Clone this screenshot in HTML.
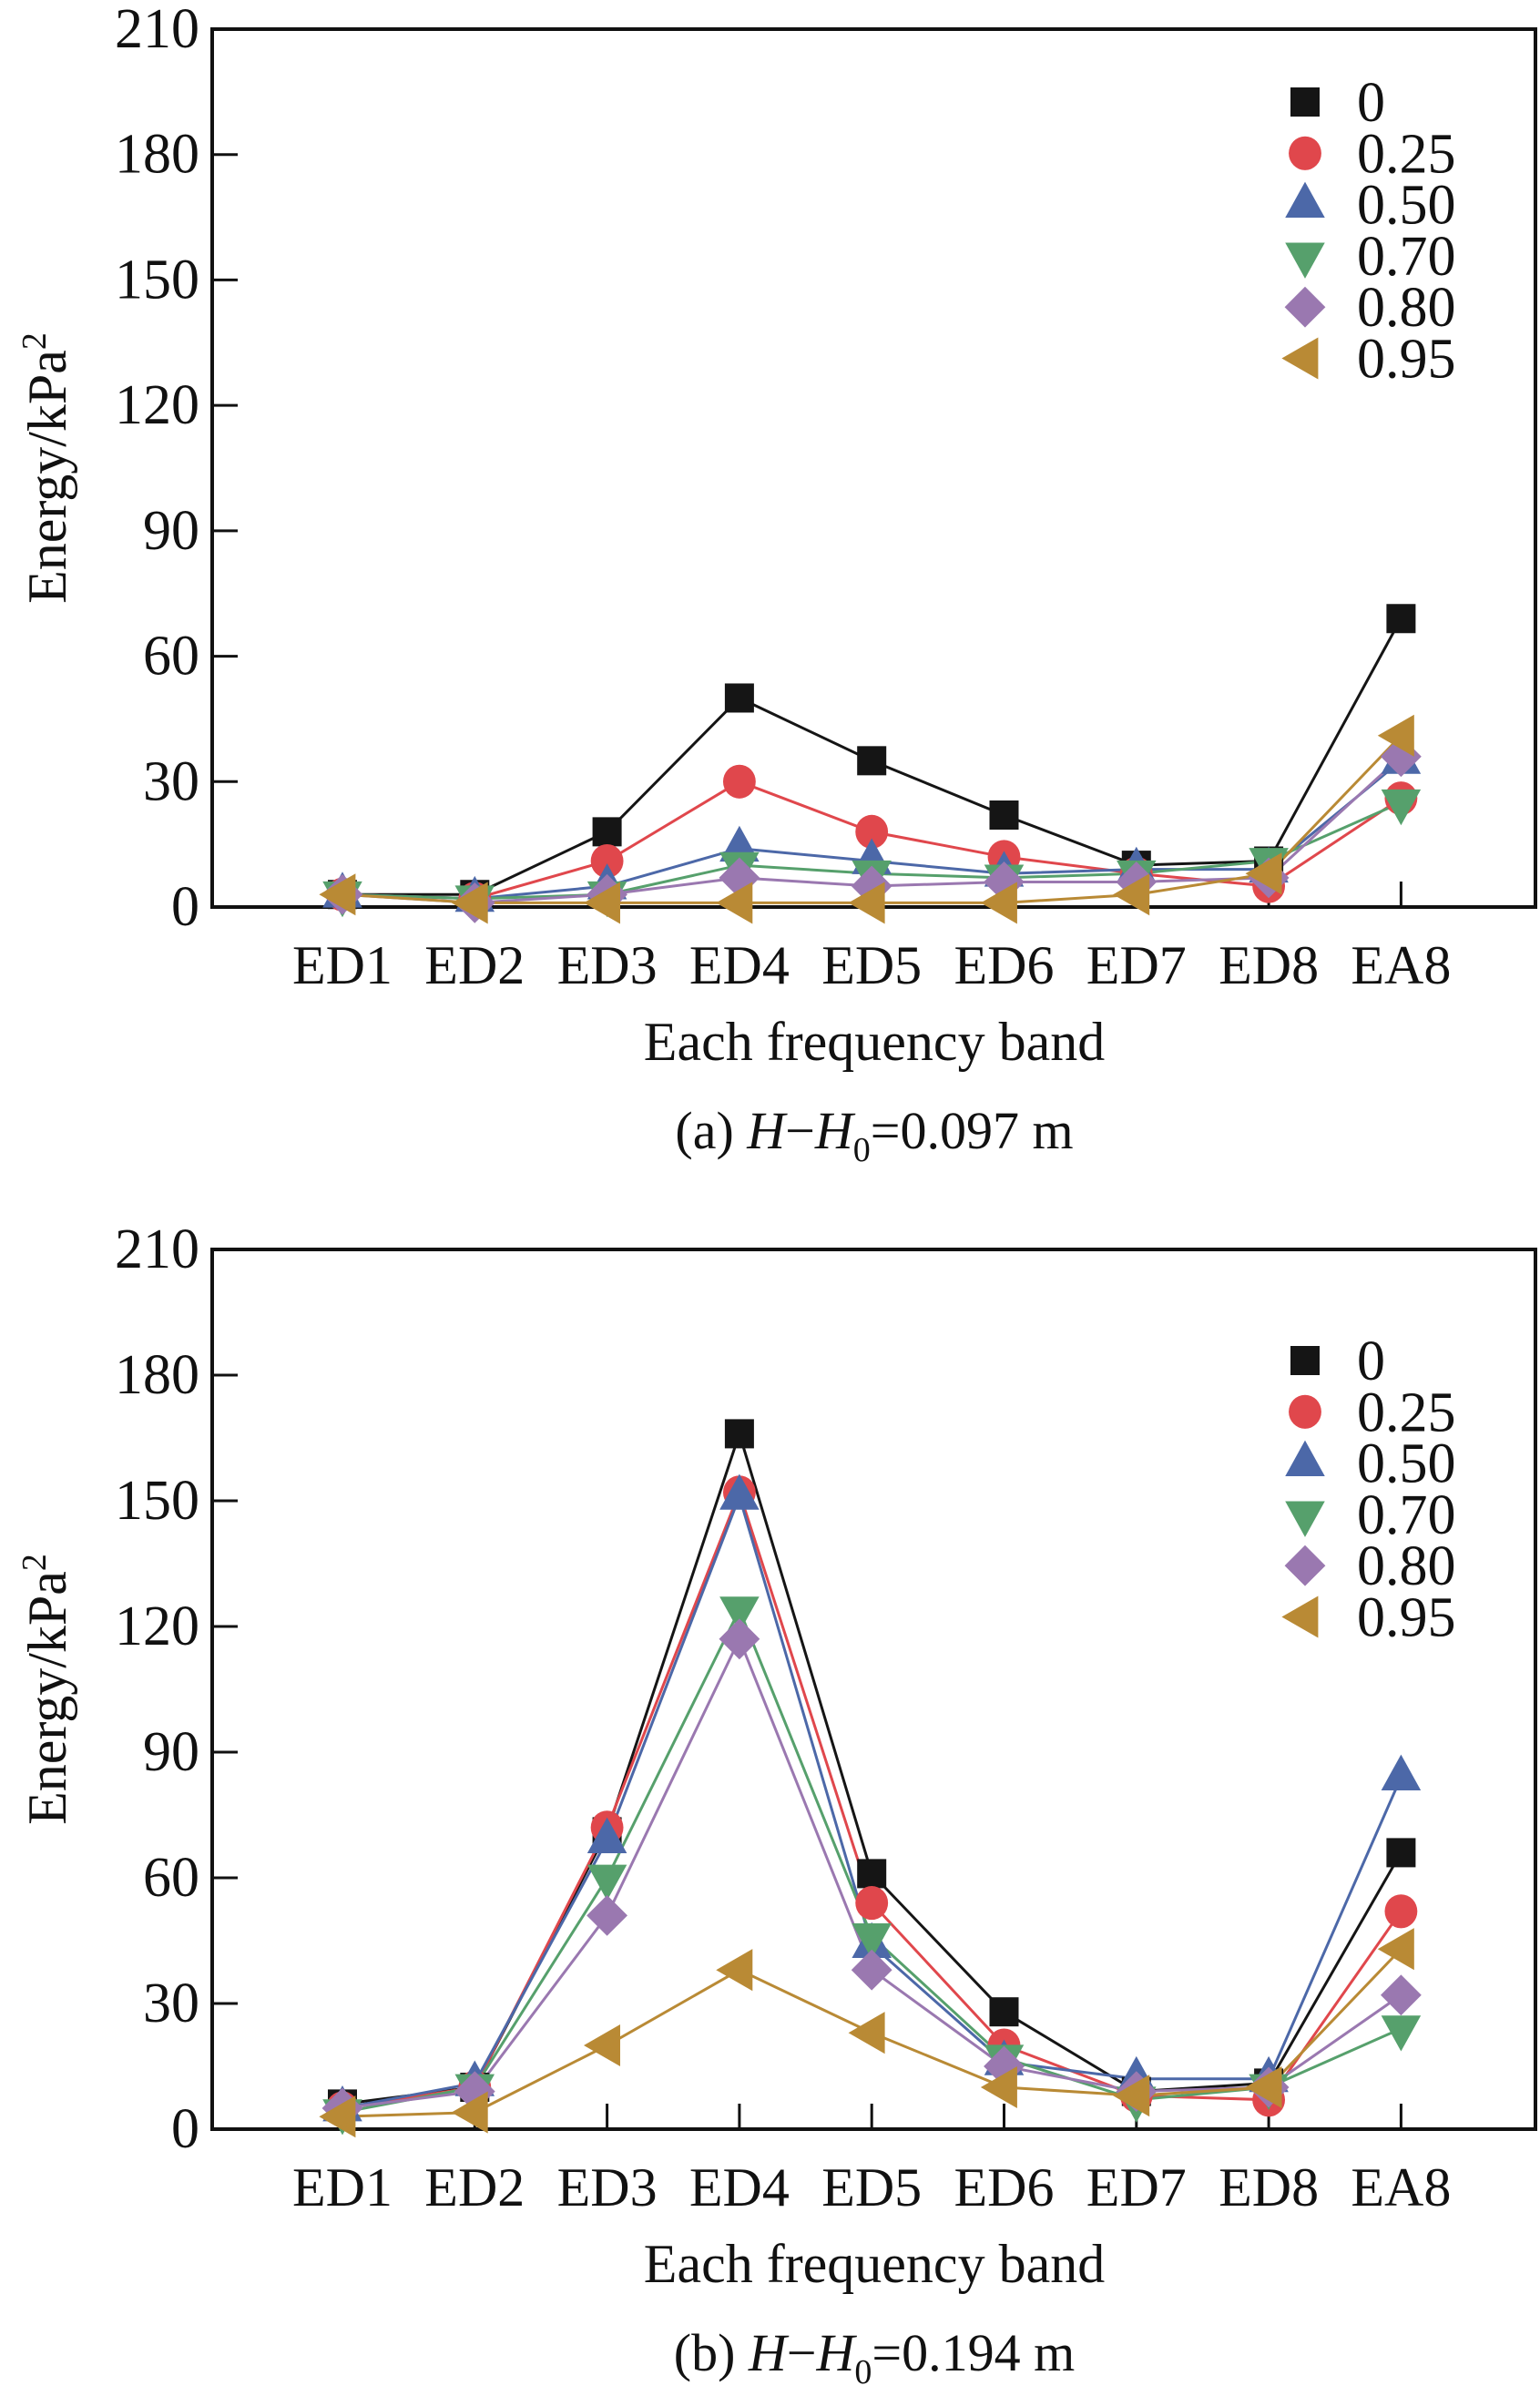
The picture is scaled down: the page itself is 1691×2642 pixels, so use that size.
<!DOCTYPE html>
<html><head><meta charset="utf-8">
<style>
html,body{margin:0;padding:0;background:#fff;}
svg{display:block;font-family:"Liberation Serif","Times New Roman",serif;}
svg text{font-family:"Liberation Serif","Times New Roman",serif;fill:#111;}
</style></head>
<body>
<svg id="fig" width="1691" height="2642" viewBox="0 0 1691 2642" xmlns="http://www.w3.org/2000/svg" font-family="Liberation Serif, serif"></svg>
<script>
const categories = ["ED1","ED2","ED3","ED4","ED5","ED6","ED7","ED8","EA8"];
const seriesNames = ["0","0.25","0.50","0.70","0.80","0.95"];
const yTicks = [0,30,60,90,120,150,180,210];
// Panel (a) H-H0=0.097 m
const a_s0   = [3,3,18,50,35,22,10,11,69];
const a_s25  = [3,2,11,30,18,12,8,5,26];
const a_s50  = [3,2,5,14,11,8,9,9,35];
const a_s70  = [3,2,3,10,8,7,8,11,25];
const a_s80  = [3,1,3,7,5,6,6,7,36];
const a_s95  = [3,1,1,1,1,1,3,8,41];
// Panel (b) H-H0=0.194 m
const b_s0   = [6,10,71,166,61,28,9,11,66];
const b_s25  = [5,10,72,152,54,20,8,7,52];
const b_s50  = [5,11,69,151,44,16,12,12,84];
const b_s70  = [4,10,60,124,46,17,7,10,24];
const b_s80  = [5,9,51,117,38,15,9,10,32];
const b_s95  = [3,4,20,38,23,10,8,10,43];

const colors = ["#151515","#e0474c","#4c68a8","#56a06c","#9a78b0","#b98a35"];
const shapes = ["square","circle","up","down","diamond","left"];
const NS = "http://www.w3.org/2000/svg";
const svg = document.getElementById("fig");
const FONT = "Liberation Serif, Times New Roman, serif";

function el(tag, attrs, parent){
  const e = document.createElementNS(NS, tag);
  for (const k in attrs) e.setAttribute(k, attrs[k]);
  if (tag==="text") e.setAttribute("font-family", FONT);
  (parent||svg).appendChild(e);
  return e;
}
function marker(g, shape, cx, cy, color, s){
  let m;
  if (shape==="square") m = el("rect",{x:cx-s*0.5,y:cy-s*0.5,width:s,height:s,fill:color},g);
  else if (shape==="circle") m = el("ellipse",{cx:cx,cy:cy,rx:s*0.56,ry:s*0.58,fill:color},g);
  else if (shape==="up") m = el("polygon",{points:`${cx-s*0.68},${cy+s*0.45} ${cx+s*0.68},${cy+s*0.45} ${cx},${cy-s*0.78}`,fill:color},g);
  else if (shape==="down") m = el("polygon",{points:`${cx-s*0.68},${cy-s*0.45} ${cx+s*0.68},${cy-s*0.45} ${cx},${cy+s*0.78}`,fill:color},g);
  else if (shape==="diamond") m = el("polygon",{points:`${cx},${cy-s*0.7} ${cx+s*0.7},${cy} ${cx},${cy+s*0.7} ${cx-s*0.7},${cy}`,fill:color},g);
  else m = el("polygon",{points:`${cx-s*0.8},${cy} ${cx+s*0.45},${cy-s*0.72} ${cx+s*0.45},${cy+s*0.72}`,fill:color},g);
  return m;
}

function panel(id, top, bottom, series, caption, capNum){
  const L=233, R=1686, X0=376, DX=145.3;
  const xs = i => X0 + i*DX;
  const ys = v => bottom - (v/210)*(bottom-top);
  const g = el("g",{});
  
  
  const frame = el("path",{d:`M${L},${top} L${L},${bottom} L${R},${bottom} L${R},${top} Z`,fill:"none",stroke:"#111","stroke-width":4},g);
  
  
  yTicks.forEach(v=>{
    const y = ys(v);
    if (v>0 && v<210) el("line",{x1:L,y1:y,x2:L+28,y2:y,stroke:"#111","stroke-width":3},g);
    const t = el("text",{x:L-14,y:y+20,"text-anchor":"end","font-size":62},g);
    t.textContent = v;
    
    
  });
  categories.forEach((c,i)=>{
    const x = xs(i);
    el("line",{x1:x,y1:bottom,x2:x,y2:bottom-28,stroke:"#111","stroke-width":3},g);
    const t = el("text",{x:x,y:bottom+84,"text-anchor":"middle","font-size":60},g);
    t.textContent = c;
    
    
  });
  const yl = el("text",{x:0,y:0,"text-anchor":"middle","font-size":60,transform:`translate(72,${(top+bottom)/2}) rotate(-90)`},g);
  yl.innerHTML = 'Energy/kPa<tspan dy="-22" font-size="38">2</tspan>';
  
  
  const xt = el("text",{x:960,y:bottom+168,"text-anchor":"middle","font-size":60},g);
  xt.textContent = "Each frequency band";
  
  
  const cap = el("text",{x:960,y:bottom+265,"text-anchor":"middle","font-size":58},g);
  cap.innerHTML = `(${caption}) <tspan font-style="italic">H</tspan>−<tspan font-style="italic">H</tspan><tspan dy="14" font-size="38">0</tspan><tspan dy="-14">=${capNum} m</tspan>`;
  
  
  series.forEach((vals,si)=>{
    const pts = vals.map((v,i)=>`${xs(i)},${ys(v)}`).join(" ");
    const pl = el("polyline",{points:pts,fill:"none",stroke:colors[si],"stroke-width":3},g);
    
    
  });
  series.forEach((vals,si)=>{
    vals.forEach((v,i)=>{
      const m = marker(g, shapes[si], xs(i), ys(v), colors[si], 32);
      
      
    });
  });
  const legTop = top + 80 + (id==="panel-b"?42:0);
  seriesNames.forEach((n,si)=>{
    const y = legTop + si*56.3;
    const m = marker(g, shapes[si], 1433, y, colors[si], 32);
    
    
    const t = el("text",{x:1490,y:y+21,"font-size":62},g);
    t.textContent = n;
    
    
  });
}
panel("panel-a", 32, 996, [a_s0,a_s25,a_s50,a_s70,a_s80,a_s95], "a", "0.097");
panel("panel-b", 1372, 2338, [b_s0,b_s25,b_s50,b_s70,b_s80,b_s95], "b", "0.194");
</script>
</body></html>
